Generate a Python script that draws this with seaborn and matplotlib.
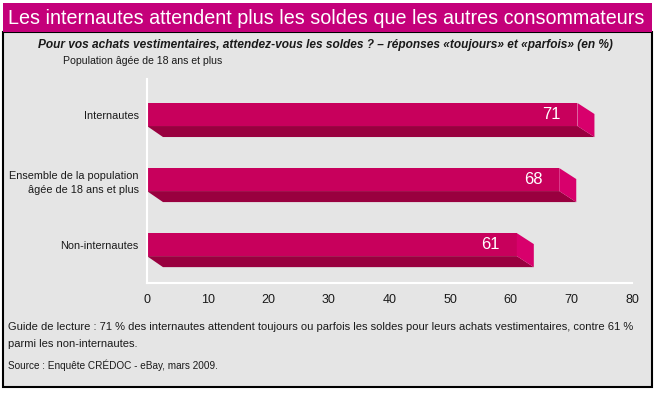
import matplotlib
matplotlib.use("Agg")
import matplotlib.pyplot as plt
import seaborn as sns
from matplotlib.patches import Rectangle, Polygon

# data
categories = ["Internautes", "Ensemble de la population\nâgée de 18 ans et plus", "Non-internautes"]
values = [71, 68, 61]
x_ticks = [0, 10, 20, 30, 40, 50, 60, 70, 80]

front = "#c8005c"
bottom = "#99003f"
side = "#d8006c"
band = "#c4007a"
grey = "#e5e5e5"
ink = "#1a1a1a"

sns.set_theme(style="white")
plt.rcParams["font.family"] = ["Liberation Sans", "DejaVu Sans"]

W, H = 655, 393
fig = plt.figure(figsize=(W / 100, H / 100), dpi=100)
fig.patch.set_facecolor("white")

def fx(px):
    return px / W

def fy(py):
    return 1 - py / H

# grey frame + title band, behind the axes
fig.patches.append(Rectangle((fx(3), fy(387)), fx(649), (387 - 32) / H, transform=fig.transFigure,
                             facecolor=grey, edgecolor="black", linewidth=1.5, zorder=-2))
fig.patches.append(Rectangle((fx(3), fy(32)), fx(649), 29 / H, transform=fig.transFigure,
                             facecolor=band, edgecolor="none", zorder=-1))

fig.text(fx(8), fy(18), "Les internautes attendent plus les soldes que les autres consommateurs",
         color="white", fontsize=14.2, ha="left", va="center")
fig.text(fx(325), fy(45), "Pour vos achats vestimentaires, attendez-vous les soldes ? – réponses «toujours» et «parfois» (en %)",
         fontsize=8.6, style="italic", weight="bold", ha="center", va="center", color=ink)
fig.text(fx(63), fy(61), "Population âgée de 18 ans et plus", fontsize=7.6, ha="left", va="center", color=ink)

# axes
ax = fig.add_axes([fx(147), fy(283), (632 - 147) / W, (283 - 79) / H])
ax.set_facecolor("none")

sns.barplot(x=values, y=categories, orient="h", color=front, saturation=1, width=0.354,
            linewidth=0, edgecolor=front, ax=ax)

ax.set_xlim(0, 80)
ax.set_ylim(2.59, -0.546)

# depth of the 3D bars, in pixels converted to data units
ux = 80 / (632 - 147)
uy = (2.59 + 0.546) / (283 - 79)
dx, dy = 17 * ux, 11 * uy
for p in list(ax.patches):
    x0, x1 = p.get_x(), p.get_x() + p.get_width()
    y0, y1 = p.get_y(), p.get_y() + p.get_height()
    ax.add_patch(Polygon([(x0, y1), (x1, y1), (x1 + dx, y1 + dy), (x0 + 16 * ux, y1 + dy)],
                         closed=True, facecolor=bottom, edgecolor="none", clip_on=False))
    ax.add_patch(Polygon([(x1, y0), (x1 + dx, y0 + dy), (x1 + dx, y1 + dy), (x1, y1)],
                         closed=True, facecolor=side, edgecolor="none", clip_on=False))

for i, v in enumerate(values):
    ax.annotate(str(v), xy=(v, i), xytext=(-17, 0), textcoords="offset pixels",
                ha="right", va="center", color="white", fontsize=12)

ax.set_xticks(x_ticks)
ax.set_xlabel("")
ax.set_ylabel("")
for s in ["top", "right"]:
    ax.spines[s].set_visible(False)
for s in ["left", "bottom"]:
    ax.spines[s].set_color("white")
    ax.spines[s].set_linewidth(1.5)
ax.tick_params(axis="x", direction="in", length=4.5, width=1.5, color="white",
               pad=8, labelsize=9, labelcolor=ink)
ax.tick_params(axis="y", length=0, pad=6, labelsize=7.8, labelcolor=ink)
for t in ax.get_yticklabels():
    t.set_multialignment("right")
    t.set_linespacing(1.5)

fig.text(fx(8), fy(327), "Guide de lecture : 71 % des internautes attendent toujours ou parfois les soldes pour leurs achats vestimentaires, contre 61 %",
         fontsize=8.0, ha="left", va="center", color=ink)
fig.text(fx(8), fy(344), "parmi les non-internautes.", fontsize=8.0, ha="left", va="center", color=ink)
fig.text(fx(8), fy(365), "Source : Enquête CRÉDOC - eBay, mars 2009.", fontsize=7.2, ha="left", va="center", color=ink)

fig.savefig("out.png", dpi=100)
